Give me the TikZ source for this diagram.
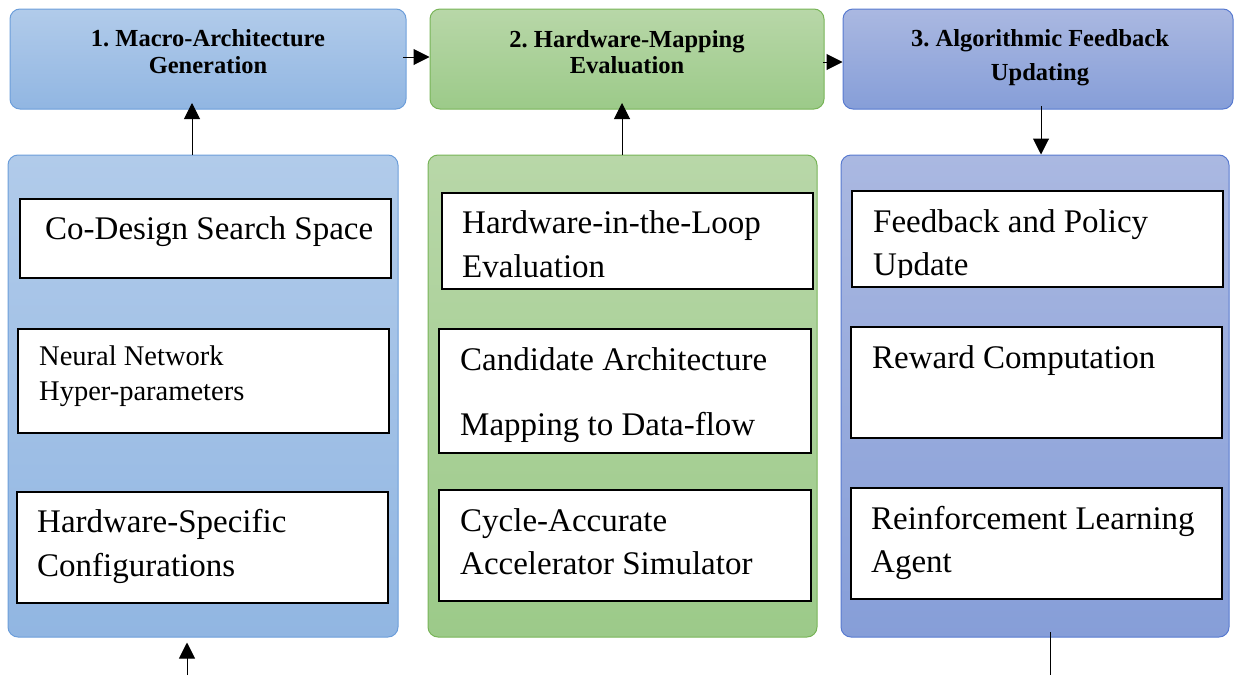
\documentclass[tikz,border=0pt]{standalone}
\usepackage{fontspec}
\setmainfont{Liberation Serif}
\frenchspacing
\usetikzlibrary{arrows.meta,fit}
\definecolor{bTop}{RGB}{177,203,234}
\definecolor{bBot}{RGB}{145,182,226}
\definecolor{bLine}{RGB}{108,158,218}
\definecolor{gTop}{RGB}{184,215,168}
\definecolor{gBot}{RGB}{156,202,137}
\definecolor{gLine}{RGB}{120,180,88}
\definecolor{pTop}{RGB}{170,184,225}
\definecolor{pBot}{RGB}{134,158,216}
\definecolor{pLine}{RGB}{88,122,208}
\begin{document}
\begin{tikzpicture}[x=1pt,y=-1pt,
  box/.style={inner sep=0pt, line width=1pt, rounded corners=10pt},
  bluebox/.style={box, draw=bLine, top color=bTop, bottom color=bBot},
  greenbox/.style={box, draw=gLine, top color=gTop, bottom color=gBot},
  purplebox/.style={box, draw=pLine, top color=pTop, bottom color=pBot},
  whitebox/.style={inner sep=0pt, draw=black, fill=white, line width=1.2pt},
  hdrtext/.style={anchor=base, inner sep=0pt, font=\fontsize{24.5}{28}\selectfont\bfseries},
  bodytext/.style={anchor=base west, inner sep=0pt, font=\fontsize{33}{40}\selectfont},
  smalltext/.style={anchor=base west, inner sep=0pt, font=\fontsize{28.5}{34}\selectfont},
  arr/.style={line width=1pt, -{Triangle[length=16pt,width=16pt]}},
  plain/.style={line width=1pt}]
\useasboundingbox (0,0) rectangle (1234,675);

% headers
\node[bluebox, fit={(10,9) (406,109)}] (h1) {};
\node[greenbox, fit={(430,9) (824,109)}] (h2) {};
\node[purplebox, fit={(843,9) (1233,109)}] (h3) {};
\node[hdrtext] (h1a) at (208,46) {1. Macro-Architecture};
\node[hdrtext] (h1b) at (208,73) {Generation};
\node[hdrtext] (h2a) at (627,47) {2. Hardware-Mapping};
\node[hdrtext] (h2b) at (627,73) {Evaluation};
\node[hdrtext] (h3a) at (1040,46) {3. Algorithmic Feedback};
\node[hdrtext] (h3b) at (1040,80) {Updating};

% panels
\node[bluebox, fit={(8,155) (398,637)}] (p1) {};
\node[greenbox, fit={(428,155) (817,637)}] (p2) {};
\node[purplebox, fit={(841,155) (1229,637)}] (p3) {};

% column 1
\node[whitebox, fit={(20,199) (391,278)}] (c1a) {};
\node[bodytext] (t1a) at (45,239) {Co-Design Search Space};
\node[whitebox, fit={(18,329) (389,433)}] (c1b) {};
\node[smalltext] (t1b1) at (39,365) {Neural Network};
\node[smalltext] (t1b2) at (39,400) {Hyper-parameters};
\node[whitebox, fit={(17,492) (388,603)}] (c1c) {};
\node[bodytext] (t1c1) at (37,532) {Hardware-Specific};
\node[bodytext] (t1c2) at (37,576) {Configurations};

% column 2
\node[whitebox, fit={(442,193) (813,289)}] (c2a) {};
\node[bodytext] (t2a1) at (462,233) {Hardware-in-the-Loop};
\node[bodytext] (t2a2) at (462,277) {Evaluation};
\node[whitebox, fit={(439,329) (811,453)}] (c2b) {};
\node[bodytext] (t2b1) at (460,370) {Candidate Architecture};
\node[bodytext] (t2b2) at (460,435) {Mapping to Data-flow};
\node[whitebox, fit={(439,490) (811,601)}] (c2c) {};
\node[bodytext] (t2c1) at (460,531) {Cycle-Accurate};
\node[bodytext] (t2c2) at (460,574) {Accelerator Simulator};

% column 3
\node[whitebox, fit={(852,191) (1223,287)}] (c3a) {};
\node[bodytext] (t3a1) at (873,232) {Feedback and Policy};
\begin{scope}
  \clip (852,240) rectangle (1223,277);
  \node[bodytext] (t3a2) at (873,275) {Update};
\end{scope}
\node[whitebox, fit={(851,327) (1222,438)}] (c3b) {};
\node[bodytext] (t3b) at (872,368) {Reward Computation};
\node[whitebox, fit={(851,488) (1222,599)}] (c3c) {};
\node[bodytext] (t3c1) at (871,529) {Reinforcement Learning};
\node[bodytext] (t3c2) at (871,572) {Agent};

% connectors
\coordinate (u1) at (192,103);
\coordinate (u2) at (622,103);
\coordinate (d3) at (1041,106);
\coordinate (r1) at (403,57);
\coordinate (r2) at (823,62);
\coordinate (in1) at (187,675);
\coordinate (out3a) at (1050,632);
\coordinate (out3b) at (1050,675);

\draw[arr] (r1) -- (h2.west |- r1);
\draw[arr] (r2) -- (h3.west |- r2);
\draw[arr] (p1.north -| u1) -- (u1);
\draw[arr] (p2.north -| u2) -- (u2);
\draw[arr] (d3) -- (p3.north -| d3);
\draw[arr] (in1) -- ([yshift=-5pt]p1.south -| in1);
\draw[plain] (out3a) -- (out3b);
\end{tikzpicture}
\end{document}
